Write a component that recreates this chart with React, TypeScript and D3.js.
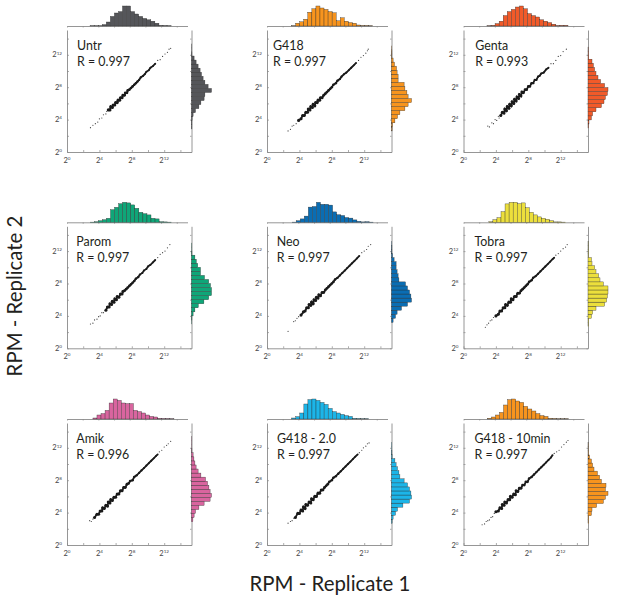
import * as d3 from 'd3';
import React, { useEffect } from 'react';

type Pt = [number, number];

const names = ['Untr', 'G418', 'Genta', 'Parom', 'Neo', 'Tobra', 'Amik', 'G418 - 2.0', 'G418 - 10min'];
const rValues = ['0.997', '0.997', '0.993', '0.997', '0.997', '0.997', '0.996', '0.997', '0.997'];
const colors = ['#55565a', '#f7941e', '#f15a29', '#0fa678', '#0a6db3', '#ecdf3c', '#d9659f', '#1cb5e8', '#f7941e'];

// histogram bins are 0.5 log2 wide, first bin edge for each panel
const binWidth = 0.5;
const topStart = [2.85, 3.04, 2.9, 2.87, 3.1, 3.13, 3.2, 3.05, 2.94];
const rightStart = [2.85, 2.6, 2.96, 3.0, 3.2, 2.7, 2.88, 2.67, 2.62];

const topUntr = [1, 1, 1, 7, 20, 48, 65, 72, 100, 100, 72, 60, 48, 38, 31, 24, 14, 3, 2, 1];
const topG418 = [1, 14, 21, 34, 69, 86, 100, 90, 83, 72, 66, 26, 41, 24, 17, 14, 5, 2, 2, 1];
const topGenta = [1, 3, 12, 24, 52, 72, 83, 95, 100, 86, 62, 52, 45, 31, 24, 17, 9, 2, 3, 3];
const topParom = [1, 3, 8, 13, 20, 63, 75, 93, 100, 97, 87, 70, 50, 43, 37, 20, 17, 3, 2, 1];
const topNeo = [1, 8, 17, 31, 76, 79, 100, 90, 90, 86, 52, 38, 34, 24, 21, 12, 5, 2, 3, 1];
const topTobra = [3, 13, 23, 53, 92, 100, 100, 93, 97, 73, 50, 37, 27, 20, 15, 8, 2, 2, 1];
const topAmik = [5, 20, 27, 43, 80, 100, 93, 80, 77, 77, 43, 37, 30, 20, 13, 10, 3, 2, 2, 1];
const topG4182 = [5, 12, 30, 75, 97, 100, 93, 83, 73, 53, 37, 30, 23, 17, 13, 3, 2, 1, 1];
const topG41810 = [3, 10, 20, 33, 70, 97, 100, 90, 83, 63, 50, 40, 27, 17, 13, 3, 2, 1, 1, 1];
const topHists = [topUntr, topG418, topGenta, topParom, topNeo, topTobra, topAmik, topG4182, topG41810];

const rightUntr = [2, 2, 3, 8, 20, 37, 47, 63, 67, 100, 83, 67, 58, 50, 43, 33, 23, 13, 2, 1, 1];
const rightG418 = [3, 5, 17, 30, 42, 67, 83, 100, 83, 77, 67, 63, 33, 33, 28, 25, 15, 8, 2, 2, 1];
const rightGenta = [2, 5, 17, 23, 40, 67, 80, 87, 97, 100, 83, 63, 50, 40, 33, 27, 20, 3, 2, 1];
const rightParom = [1, 2, 8, 17, 34, 62, 86, 100, 100, 95, 86, 65, 45, 45, 31, 24, 17, 2, 1, 1];
const rightNeo = [8, 20, 28, 50, 80, 100, 97, 90, 80, 70, 37, 33, 28, 23, 23, 13, 5, 2, 2, 1];
const rightTobra = [2, 3, 17, 23, 40, 83, 93, 97, 100, 100, 77, 60, 53, 40, 33, 20, 17, 2, 2, 1, 1];
const rightAmik = [7, 13, 20, 37, 63, 93, 100, 93, 87, 80, 70, 47, 33, 23, 17, 12, 8, 2, 1, 1, 1];
const rightG4182 = [3, 8, 20, 30, 57, 90, 100, 97, 90, 80, 63, 42, 37, 30, 23, 17, 3, 2, 1, 1];
const rightG41810 = [2, 3, 17, 20, 43, 77, 87, 100, 87, 90, 67, 58, 47, 30, 23, 17, 8, 2, 1, 1];
const rightHists = [rightUntr, rightG418, rightGenta, rightParom, rightNeo, rightTobra, rightAmik, rightG4182, rightG41810];

// dense part of each scatter, log2 RPM (replicate 1, replicate 2)
const denseUntr: Pt[] = [[5.1,5.2],[5.3,5.2],[5.4,5.6],[5.6,5.5],[5.7,5.8],[5.9,5.8],[6.0,6.1],[6.2,6.1],[6.3,6.4],[6.5,6.4],[6.6,6.7],[6.8,6.7],[6.9,7.0],[7.1,7.0],[7.2,7.3],[7.4,7.3],[7.5,7.6],[7.7,7.7],[7.9,7.9],[8.1,8.1],[8.3,8.3],[8.5,8.5],[8.7,8.7],[8.9,8.9],[9.1,9.2],[9.4,9.4],[9.6,9.6],[9.8,9.9],[10.1,10.1],[10.3,10.4],[10.6,10.6],[10.9,10.9]];
const denseG418: Pt[] = [[3.9,3.9],[4.2,4.1],[4.4,4.5],[4.6,4.5],[4.8,4.9],[5.0,4.9],[5.1,5.3],[5.3,5.2],[5.4,5.6],[5.6,5.5],[5.7,5.9],[5.9,5.7],[6.0,6.1],[6.2,6.1],[6.3,6.4],[6.5,6.4],[6.6,6.7],[6.8,6.7],[7.0,7.0],[7.2,7.2],[7.4,7.4],[7.6,7.6],[7.8,7.8],[8.0,8.0],[8.2,8.3],[8.5,8.5],[8.7,8.8],[9.0,9.0],[9.2,9.3],[9.5,9.6],[9.8,9.8],[10.1,10.1],[10.4,10.4],[10.7,10.7],[11.0,11.0]];
const denseGenta: Pt[] = [[4.6,4.5],[4.8,4.9],[5.0,4.8],[5.1,5.3],[5.3,5.1],[5.4,5.6],[5.6,5.4],[5.7,5.9],[5.9,5.7],[6.0,6.2],[6.2,6.0],[6.3,6.5],[6.5,6.3],[6.6,6.8],[6.8,6.6],[6.9,7.1],[7.1,6.9],[7.2,7.4],[7.4,7.3],[7.6,7.7],[7.8,7.7],[8.0,8.1],[8.2,8.1],[8.4,8.5],[8.6,8.5],[8.8,8.9],[9.0,8.9],[9.2,9.3],[9.4,9.4],[9.6,9.7],[9.9,9.8],[10.2,10.2],[10.5,10.4]];
const denseParom: Pt[] = [[4.8,4.7],[5.0,5.1],[5.2,5.1],[5.3,5.5],[5.5,5.4],[5.6,5.8],[5.8,5.7],[5.9,6.1],[6.1,6.0],[6.2,6.4],[6.4,6.3],[6.6,6.7],[6.8,6.7],[6.9,7.0],[7.1,7.1],[7.3,7.3],[7.5,7.5],[7.7,7.7],[7.9,7.9],[8.1,8.1],[8.3,8.3],[8.5,8.6],[8.8,8.8],[9.0,9.1],[9.3,9.3],[9.5,9.6],[9.8,9.8],[10.0,10.1],[10.3,10.3],[10.6,10.6],[10.9,10.9]];
const denseNeo: Pt[] = [[4.2,4.1],[4.5,4.5],[4.7,4.6],[4.9,5.0],[5.1,5.0],[5.2,5.4],[5.4,5.3],[5.5,5.7],[5.7,5.5],[5.8,6.0],[6.0,5.9],[6.1,6.3],[6.3,6.2],[6.4,6.6],[6.6,6.5],[6.8,6.9],[7.0,6.9],[7.2,7.2],[7.4,7.4],[7.6,7.6],[7.8,7.8],[8.0,8.0],[8.2,8.2],[8.4,8.5],[8.7,8.7],[9.0,9.0],[9.3,9.3],[9.6,9.6],[9.9,9.9],[10.2,10.2],[10.5,10.5],[10.8,10.8],[11.1,11.1],[11.4,11.4]];
const denseTobra: Pt[] = [[4.0,4.0],[4.3,4.2],[4.5,4.6],[4.7,4.6],[4.9,5.0],[5.1,5.0],[5.2,5.4],[5.4,5.3],[5.6,5.7],[5.8,5.7],[5.9,6.1],[6.1,6.0],[6.3,6.4],[6.5,6.4],[6.7,6.8],[6.9,6.8],[7.1,7.1],[7.3,7.3],[7.5,7.5],[7.7,7.7],[7.9,7.9],[8.1,8.2],[8.4,8.4],[8.6,8.7],[8.9,8.9],[9.2,9.2],[9.5,9.5],[9.8,9.8],[10.1,10.1],[10.4,10.4],[10.7,10.7],[11.0,11.0],[11.2,11.2]];
const denseAmik: Pt[] = [[3.4,3.4],[3.7,3.8],[3.9,3.8],[4.1,4.2],[4.3,4.2],[4.4,4.6],[4.6,4.5],[4.8,4.9],[5.0,4.8],[5.1,5.3],[5.3,5.2],[5.4,5.6],[5.6,5.5],[5.8,5.9],[6.0,5.9],[6.2,6.3],[6.4,6.3],[6.6,6.7],[6.8,6.7],[7.0,7.1],[7.2,7.1],[7.4,7.5],[7.6,7.6],[7.8,7.9],[8.1,8.0],[8.3,8.4],[8.6,8.6],[8.9,8.9],[9.2,9.2],[9.5,9.5],[9.8,9.8],[10.1,10.1],[10.4,10.4],[10.7,10.7],[11.0,11.0],[11.2,11.2]];
const denseG4182: Pt[] = [[3.5,3.4],[3.8,3.9],[4.0,3.9],[4.2,4.3],[4.4,4.2],[4.5,4.7],[4.7,4.5],[4.8,5.0],[5.0,4.9],[5.2,5.3],[5.4,5.2],[5.5,5.7],[5.7,5.6],[5.9,6.0],[6.1,6.0],[6.3,6.4],[6.5,6.4],[6.7,6.8],[6.9,6.8],[7.1,7.1],[7.3,7.3],[7.5,7.5],[7.7,7.8],[8.0,8.0],[8.2,8.3],[8.5,8.5],[8.8,8.8],[9.1,9.1],[9.4,9.4],[9.7,9.7],[10.0,10.0],[10.3,10.3],[10.6,10.6],[10.9,10.9],[11.2,11.2]];
const denseG41810: Pt[] = [[4.0,4.1],[4.3,4.2],[4.5,4.6],[4.7,4.5],[4.8,5.0],[5.0,4.9],[5.1,5.3],[5.3,5.2],[5.5,5.6],[5.7,5.6],[5.8,6.0],[6.0,5.9],[6.2,6.3],[6.4,6.2],[6.5,6.7],[6.7,6.6],[6.9,7.0],[7.1,7.0],[7.3,7.4],[7.5,7.4],[7.7,7.8],[7.9,7.8],[8.1,8.2],[8.4,8.4],[8.7,8.7],[9.0,9.0],[9.3,9.3],[9.6,9.6],[9.9,9.9],[10.2,10.2],[10.5,10.5],[10.8,10.8],[11.0,11.1]];
const denseLists = [denseUntr, denseG418, denseGenta, denseParom, denseNeo, denseTobra, denseAmik, denseG4182, denseG41810];

// sparse ends of each scatter
const tailUntr: Pt[] = [[2.9,3.0],[3.2,3.3],[3.5,3.5],[3.8,3.7],[4.0,4.1],[4.3,4.2],[4.5,4.6],[4.8,4.7],[4.9,5.0],[11.2,11.3],[11.5,11.4],[11.8,11.8],[12.1,12.1],[12.4,12.3],[12.6,12.7],[12.8,12.8]];
const tailG418: Pt[] = [[2.6,2.6],[2.9,2.8],[3.1,3.2],[3.3,3.3],[3.6,3.5],[11.3,11.3],[11.6,11.7],[11.9,11.9],[12.2,12.2],[12.4,12.5],[12.5,12.7]];
const tailGenta: Pt[] = [[3.0,3.2],[3.2,3.1],[3.5,3.6],[3.7,3.5],[3.9,4.0],[4.1,3.9],[4.3,4.4],[4.4,4.2],[10.8,10.9],[11.1,10.9],[11.4,11.3],[11.7,11.8],[12.0,11.9],[12.3,12.4],[12.7,12.7]];
const tailParom: Pt[] = [[2.9,3.0],[3.2,3.1],[3.4,3.5],[3.7,3.6],[3.9,3.9],[4.1,4.0],[4.3,4.4],[4.5,4.4],[11.2,11.2],[11.5,11.6],[11.8,11.8],[12.1,12.0],[12.4,12.4],[12.7,12.8]];
const tailNeo: Pt[] = [[2.6,2.1],[3.3,3.3],[3.5,3.4],[3.7,3.7],[3.9,3.9],[11.7,11.8],[12.0,12.0],[12.3,12.2],[12.5,12.6],[12.8,12.8]];
const tailTobra: Pt[] = [[2.7,2.6],[2.9,2.9],[3.1,3.1],[3.3,3.4],[3.5,3.5],[3.7,3.8],[11.4,11.5],[11.7,11.7],[12.0,12.0],[12.3,12.3],[12.6,12.5],[12.8,12.8]];
const tailAmik: Pt[] = [[2.8,3.0],[3.0,2.9],[3.2,3.2],[11.4,11.5],[11.7,11.7],[12.0,12.1],[12.3,12.3],[12.5,12.5],[12.8,12.8]];
const tailG4182: Pt[] = [[2.6,2.7],[2.9,2.9],[3.1,3.0],[3.3,3.3],[11.4,11.4],[11.7,11.7],[11.9,12.0],[12.2,12.2],[12.4,12.5],[12.6,12.6]];
const tailG41810: Pt[] = [[2.3,2.5],[2.6,2.6],[2.8,2.9],[3.0,3.0],[3.2,3.1],[3.4,3.4],[3.6,3.5],[3.8,3.9],[11.2,11.3],[11.5,11.5],[11.8,11.7],[12.1,12.1],[12.4,12.4],[12.7,12.7],[12.9,12.9]];
const tailLists = [tailUntr, tailG418, tailGenta, tailParom, tailNeo, tailTobra, tailAmik, tailG4182, tailG41810];

const labelTicks = [0, 4, 8, 12];
const allTicks = [0, 2, 4, 6, 8, 10, 12, 14];

// layout
const lefts = [67, 267, 463.5, 67, 267, 463.5, 67, 267, 463.5];
const bottoms = [152, 152, 152, 348.3, 348.3, 348.3, 545, 545, 545];
const labelDx = [10, 6, 11.7, 9.3, 9.7, 11, 9.3, 10, 11];
const pxPerLog2 = 8.1;
const plotW = 124.5;
const plotH = 122;
const gap = 4;
const histMax = 20;
const axisColor = '#8a8a8a';
const tickColor = '#444';
const font = 'Lato, sans-serif';

function Panel({ index }: { index: number }) {
  const ref = React.useRef<SVGGElement>(null);

  useEffect(() => {
    if (!ref.current) return;
    const g = d3.select(ref.current);
    g.selectAll('*').remove();

    const x = d3.scaleLinear().domain([0, plotW / pxPerLog2]).range([0, plotW]);
    const y = d3.scaleLinear().domain([0, plotH / pxPerLog2]).range([plotH, 0]);
    const len = d3.scaleLinear().domain([0, 100]).range([0, histMax]);

    // Axes, the minor ticks point inwards
    const styleAxis = (a: d3.Selection<SVGGElement, unknown, null, undefined>) => {
      a.selectAll('path').attr('stroke', axisColor).attr('stroke-width', 0.9);
      a.selectAll('line').attr('stroke', axisColor).attr('stroke-width', 0.7);
    };
    const bottom = g.append('g')
      .attr('transform', `translate(0,${plotH})`)
      .call(d3.axisBottom(x).tickValues(allTicks).tickSize(-2).tickSizeOuter(0).tickFormat(() => ''));
    styleAxis(bottom);
    const left = g.append('g')
      .call(d3.axisLeft(y).tickValues(allTicks).tickSize(-2).tickSizeOuter(0).tickFormat(() => ''));
    styleAxis(left);
    const right = g.append('g')
      .attr('transform', `translate(${plotW},0)`)
      .call(d3.axisRight(y).tickValues(allTicks).tickSize(-1.5).tickSizeOuter(0).tickFormat(() => ''));
    styleAxis(right);
    const topX = d3.scaleLinear().domain(x.domain()).range([0, plotW - gap]);
    const top = g.append('g')
      .attr('transform', `translate(0,${-gap})`)
      .call(d3.axisBottom(topX).tickValues(allTicks).tickSize(1.5).tickSizeOuter(0).tickFormat(() => ''));
    styleAxis(top);

    // Tick labels
    const tickLabel = (sel: d3.Selection<SVGTextElement, number, SVGGElement, unknown>) => {
      sel.attr('fill', tickColor).attr('font-family', font).attr('font-size', 7.5);
      sel.append('tspan').text('2');
      sel.append('tspan').attr('font-size', 4.6).attr('dy', -2.8).text(d => d);
    };
    g.append('g').selectAll('text').data(labelTicks).join('text')
      .attr('x', d => x(d)).attr('y', plotH + 11).attr('text-anchor', 'middle').call(tickLabel);
    g.append('g').selectAll('text').data(labelTicks).join('text')
      .attr('x', -5).attr('y', d => y(d) + 2.5).attr('text-anchor', 'end').call(tickLabel);

    // Marginal histograms
    const color = colors[index];
    g.append('g').selectAll('rect').data(topHists[index]).join('rect')
      .attr('x', (_, i) => x(topStart[index] + i * binWidth))
      .attr('width', x(binWidth))
      .attr('y', d => -gap - len(d))
      .attr('height', d => len(d))
      .attr('fill', color).attr('stroke', '#2b2b2b').attr('stroke-width', 0.35);
    g.append('g').selectAll('rect').data(rightHists[index]).join('rect')
      .attr('x', plotW)
      .attr('width', d => len(d))
      .attr('y', (_, i) => y(rightStart[index] + (i + 1) * binWidth))
      .attr('height', y(0) - y(binWidth))
      .attr('fill', color).attr('stroke', '#2b2b2b').attr('stroke-width', 0.35);

    // Scatter: band narrows towards the high end
    const radius = d3.scaleLinear().domain([6.5, 10.5]).range([1.55, 0.9]).clamp(true);
    g.append('g').selectAll('circle').data(tailLists[index]).join('circle')
      .attr('cx', d => x(d[0])).attr('cy', d => y(d[1]))
      .attr('r', 0.6).attr('fill', '#3a3a3a');
    g.append('path')
      .datum(denseLists[index])
      .attr('fill', 'none').attr('stroke', '#1a1a1a').attr('stroke-width', 1.8)
      .attr('d', d3.line<Pt>().x(d => x(d[0])).y(d => y(d[1])));
    g.append('g').selectAll('circle').data(denseLists[index]).join('circle')
      .attr('cx', d => x(d[0])).attr('cy', d => y(d[1]))
      .attr('r', d => radius(d[0])).attr('fill', '#1a1a1a');

    // Panel label
    const label = g.append('text').attr('font-family', font).attr('font-size', 12.4).attr('fill', '#231f20');
    label.append('tspan').attr('x', labelDx[index]).attr('y', plotH - 102).text(names[index]);
    label.append('tspan').attr('x', labelDx[index]).attr('y', plotH - 86).text(`R = ${rValues[index]}`);
  }, [index]);

  return <g ref={ref} transform={`translate(${lefts[index]},${bottoms[index] - plotH})`} />;
}

export default function App() {
  return (
    <svg width={617} height={598} style={{ position: 'absolute', left: 0, top: 0, background: '#fff' }}>
      {names.map((_, i) => <Panel key={i} index={i} />)}
      <text x={330} y={591} textAnchor="middle" fontFamily={font} fontSize={20.4} fill="#231f20">RPM - Replicate 1</text>
      <text transform="translate(22,296) rotate(-90)" textAnchor="middle" fontFamily={font} fontSize={20.4} fill="#231f20">RPM - Replicate 2</text>
    </svg>
  );
}
